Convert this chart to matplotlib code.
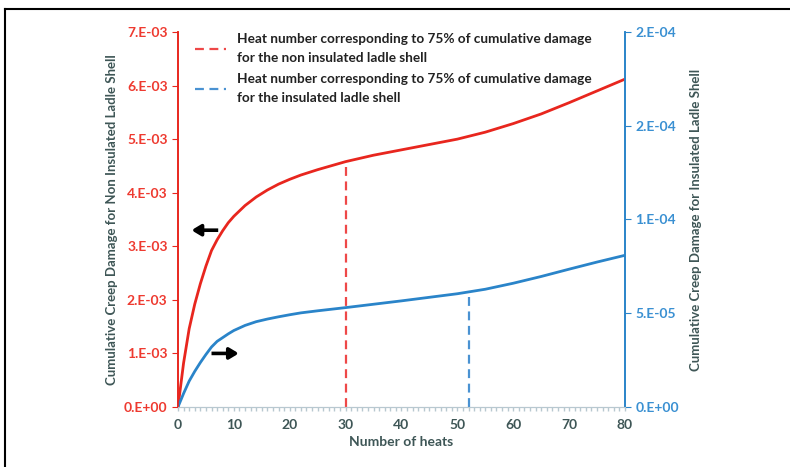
import numpy as np
import matplotlib
matplotlib.use('Agg')
import matplotlib.pyplot as plt
from matplotlib.lines import Line2D

plt.rcParams.update({'font.family': ['Lato', 'DejaVu Sans'], 'font.weight': 'bold',
                     'axes.labelweight': 'bold'})

# heats and cumulative creep damage
heats = [0, 1, 2, 3, 4, 5, 6, 7, 8, 9, 10, 12, 14, 16, 18, 20, 22, 25, 30,
         35, 40, 45, 50, 55, 60, 65, 70, 75, 80]
dmg_non_ins = [0, 0.82, 1.46, 1.92, 2.30, 2.63, 2.92, 3.12, 3.29, 3.44, 3.56,
               3.76, 3.92, 4.05, 4.16, 4.25, 4.33, 4.43, 4.58, 4.70, 4.80,
               4.90, 5.00, 5.13, 5.29, 5.47, 5.68, 5.90, 6.12]   # x1e-3
dmg_ins = [0, 0.72, 1.38, 1.90, 2.37, 2.80, 3.20, 3.50, 3.70, 3.90, 4.08,
           4.35, 4.55, 4.69, 4.81, 4.92, 5.02, 5.13, 5.30, 5.48, 5.66,
           5.85, 6.04, 6.28, 6.60, 6.96, 7.35, 7.73, 8.09]        # x1e-5

heat75_non_ins = 30
heat75_ins = 52

left_ticks = [0, 1e-3, 2e-3, 3e-3, 4e-3, 5e-3, 6e-3, 7e-3]
left_tick_labels = ['0.E+00', '1.E-03', '2.E-03', '3.E-03', '4.E-03', '5.E-03', '6.E-03', '7.E-03']
right_ticks = [0, 5e-5, 1e-4, 1.5e-4, 2e-4]
right_tick_labels = ['0.E+00', '5.E-05', '1.E-04', '2.E-04', '2.E-04']

leg_non_ins = 'Heat number corresponding to 75% of cumulative damage\nfor the non insulated ladle shell'
leg_ins = 'Heat number corresponding to 75% of cumulative damage\nfor the insulated ladle shell'

red = '#e8261e'
red_txt = '#ee3a30'
blue = '#2a84c9'
blue_txt = '#3a90d2'
dark = '#3e5656'

heats = np.array(heats)
y1 = np.array(dmg_non_ins) * 1e-3
y2 = np.array(dmg_ins) * 1e-5

fig = plt.figure(figsize=(7.9, 4.67), dpi=100)
ax1 = fig.add_axes([0.2253, 0.1285, 0.5658, 0.803])
ax2 = ax1.twinx()

ax1.plot(heats, y1, color=red, lw=2)
ax2.plot(heats, y2, color=blue, lw=2)

# 75% markers
v1 = np.interp(heat75_non_ins, heats, y1)
v2 = np.interp(heat75_ins, heats, y2)
ax1.plot([heat75_non_ins, heat75_non_ins], [0, v1], color='#ee4848', lw=1.6, ls=(0, (4, 2.5)))
ax2.plot([heat75_ins, heat75_ins], [0, v2], color='#4a92d2', lw=1.6, ls=(0, (4, 2.5)))

ax1.set_xlim(0, 80)
ax1.set_ylim(0, 7e-3)
ax2.set_ylim(0, 2e-4)

ax1.set_xticks(np.arange(0, 81, 10))
ax1.set_xticks(np.arange(0, 81, 1), minor=True)
ax1.tick_params(axis='x', which='both', length=3, width=1, color='#b8c8d0',
                labelcolor=dark, labelsize=10, pad=6)
ax1.set_yticks(left_ticks)
ax1.set_yticklabels(left_tick_labels)
ax1.tick_params(axis='y', length=4, color=red, labelcolor=red_txt, labelsize=10)
ax2.set_yticks(right_ticks)
ax2.set_yticklabels(right_tick_labels)
ax2.tick_params(axis='y', length=4, color=blue, labelcolor=blue_txt, labelsize=10)

for ax in (ax1, ax2):
    ax.spines['top'].set_visible(False)
    ax.spines['left'].set_color(red)
    ax.spines['right'].set_color(blue)
    ax.spines['bottom'].set_color('#b8c8d0')
    ax.spines['left'].set_linewidth(1.2)
    ax.spines['right'].set_linewidth(1.2)

ax1.set_xlabel('Number of heats', color=dark, fontsize=10, labelpad=3)
ax1.set_ylabel('Cumulative Creep Damage for Non Insulated Ladle Shell', color=dark, fontsize=9.5, labelpad=4)
ax2.set_ylabel('Cumulative Creep Damage for Insulated Ladle Shell', color=dark, fontsize=9.5, labelpad=8)

# arrows pointing to the matching axis
arrow = dict(arrowstyle='-|>,head_length=0.5,head_width=0.3', color='black',
             lw=2.6, mutation_scale=11, shrinkA=0, shrinkB=0, capstyle='butt')
ax1.annotate('', xy=(2.4, 3.3e-3), xytext=(7.2, 3.3e-3), arrowprops=arrow)
ax1.annotate('', xy=(10.9, 1.0e-3), xytext=(6.0, 1.0e-3), arrowprops=arrow)

handles = [Line2D([], [], color='#ee4848', lw=1.6, ls=(0, (4, 2.5))),
           Line2D([], [], color='#4a92d2', lw=1.6, ls=(0, (4, 2.5)))]
leg = ax1.legend(handles, [leg_non_ins, leg_ins], loc='upper left',
                 bbox_to_anchor=(0.01, 1.03), frameon=False, fontsize=9.8,
                 handlelength=2.3, handletextpad=0.8, labelspacing=0.6)
for t in leg.get_texts():
    t.set_color('#222222')
    t.set_linespacing(1.75)

# frame around the picture (left and top edges)
fig.add_artist(Line2D([0.0065, 0.0065], [0, 0.981], color='black', lw=1.5, transform=fig.transFigure))
fig.add_artist(Line2D([0.0065, 1], [0.981, 0.981], color='black', lw=1.5, transform=fig.transFigure))

fig.savefig('out.png', dpi=100)
